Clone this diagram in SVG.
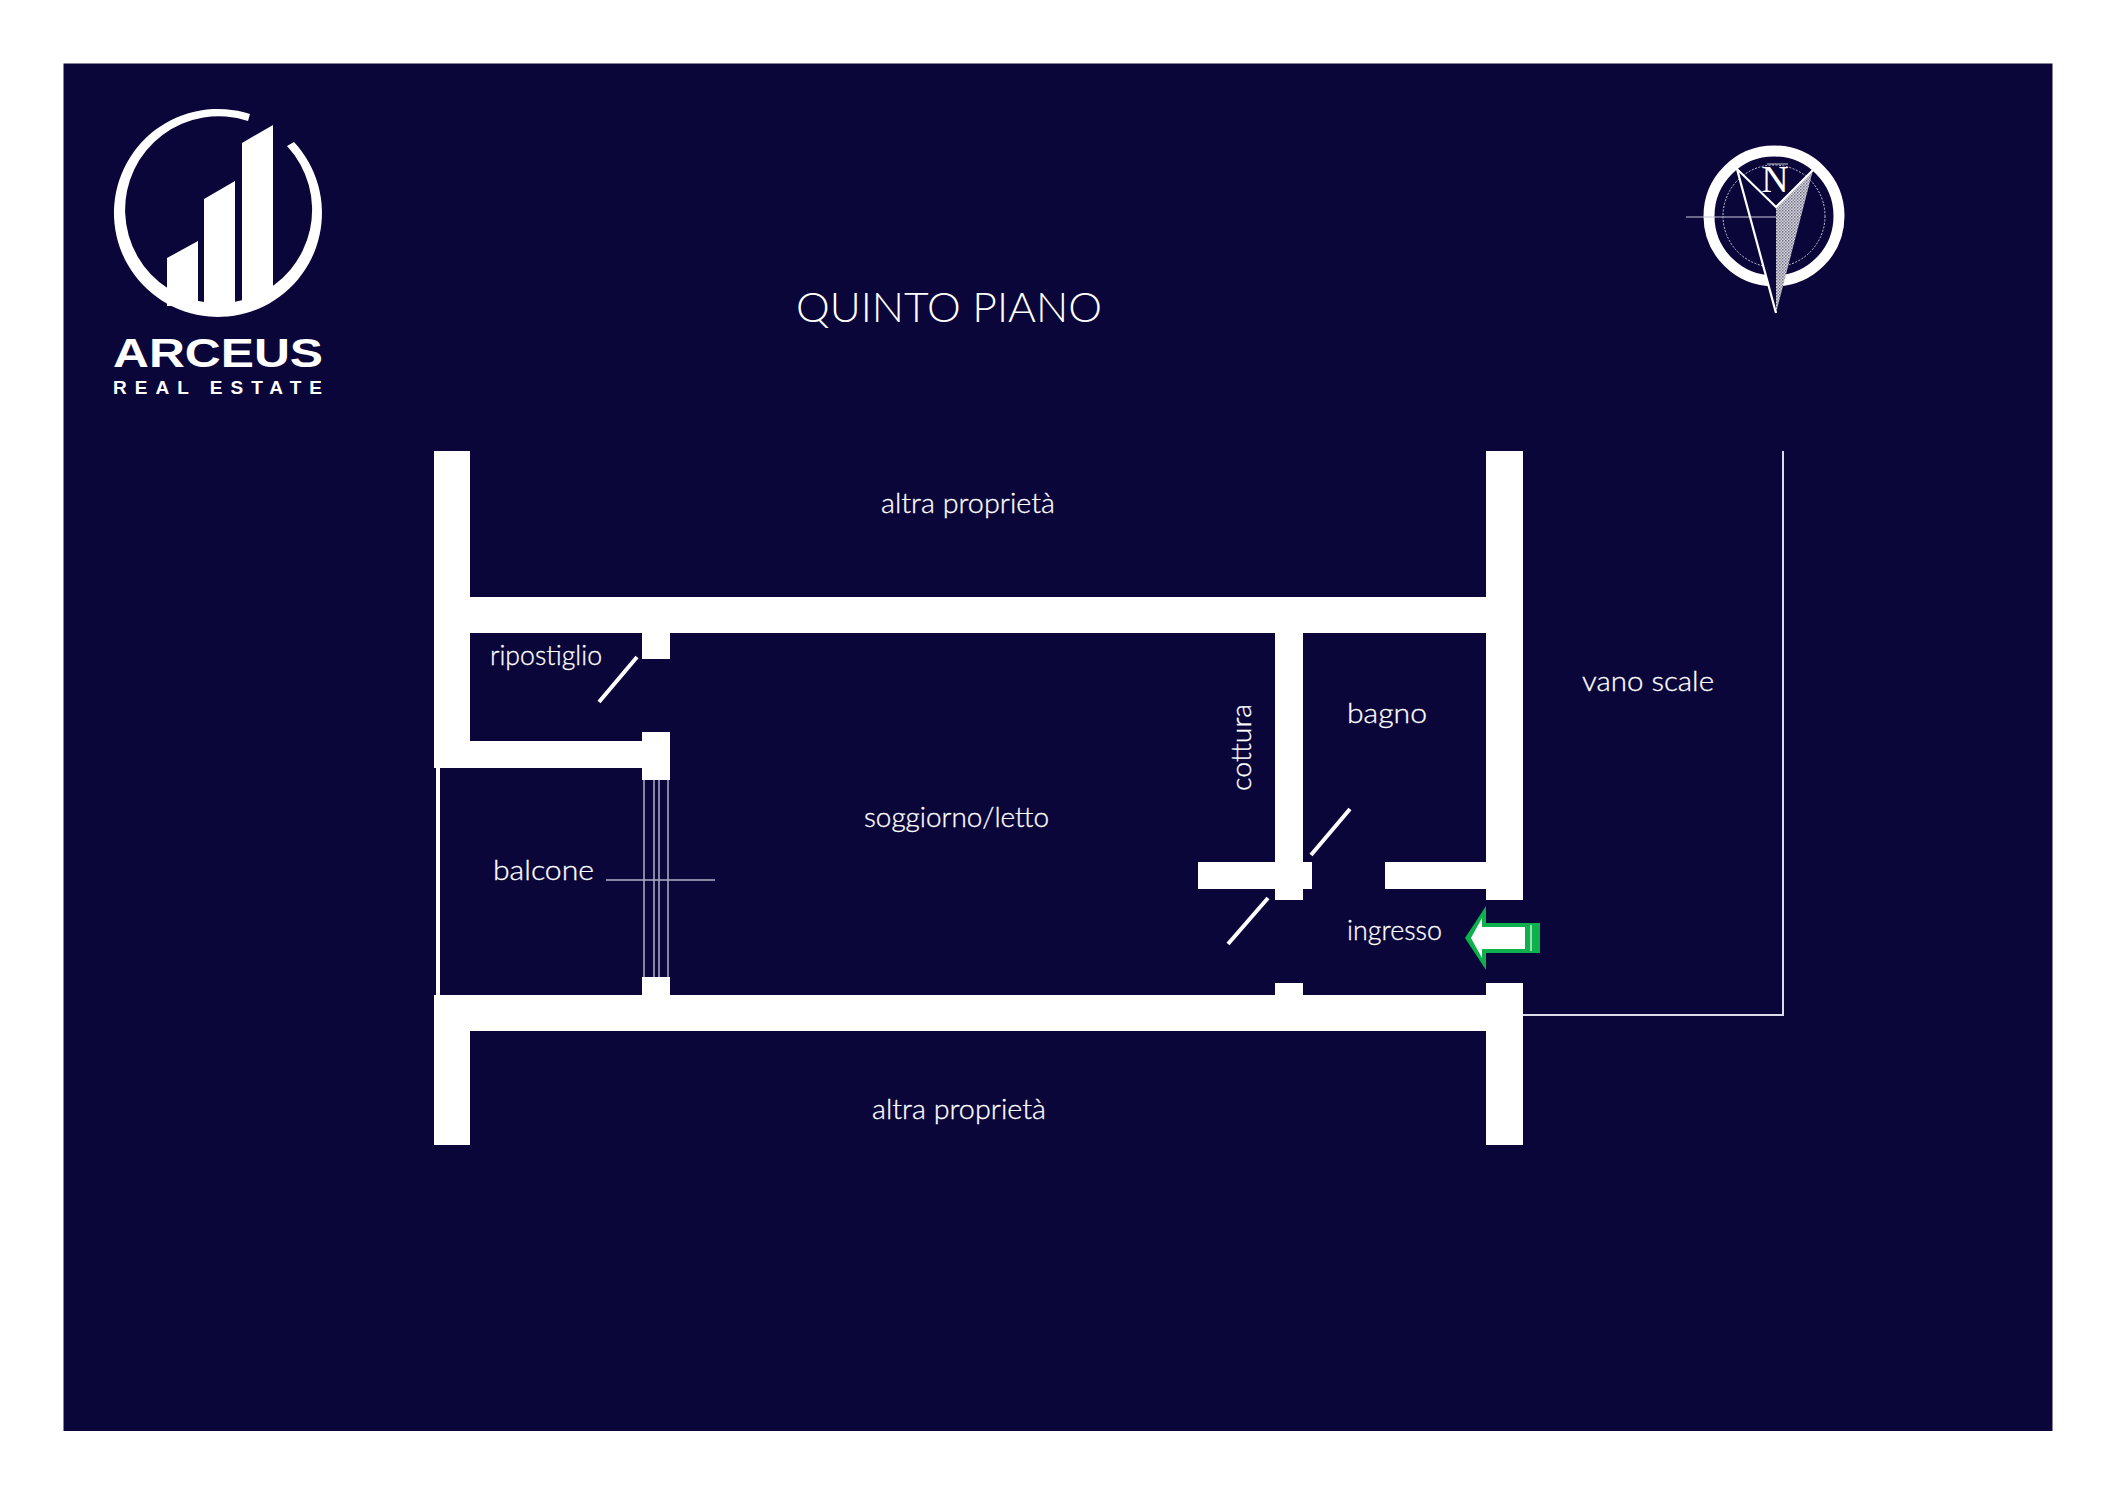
<svg xmlns="http://www.w3.org/2000/svg" width="2116" height="1497" viewBox="0 0 2116 1497">
<defs>
<pattern id="dots" width="3" height="3" patternUnits="userSpaceOnUse"><rect width="3" height="3" fill="#dcdce4"/><rect width="1.5" height="1.5" fill="#6a6a80"/><rect x="1.5" y="1.5" width="1.5" height="1.5" fill="#8a8a9c"/></pattern>
</defs>
<style>
.w{fill:#fff}
.d{stroke:#fff;stroke-width:4;fill:none}
.g{stroke:#b0aec6;stroke-width:1.5;fill:none}
.t{font-family:"Lato","Liberation Sans",sans-serif;font-weight:300;font-size:27px;fill:#fff;stroke:#fff;stroke-width:.3}
</style>
<rect id="background" width="2116" height="1497" fill="#fff"/>
<rect id="sheet" x="63.5" y="63.5" width="1989" height="1367.5" fill="#0b063a"/>
<g id="logo">
<path class="w" d="M250,114A104,104 0 1 0 294,142L287,146A93.5,93.5 0 1 1 248,121Z"/>
<path class="w" d="M167,258L198,241V306H167Z"/>
<path class="w" d="M204,199L235,181V306H204Z"/>
<path class="w" d="M242,143L273,125V295H242Z"/>
<path class="w" d="M242,295H273L250,306H242Z"/>
<text x="113" y="367" font-family="Liberation Sans" font-weight="700" font-size="40" fill="#fff" textLength="210" lengthAdjust="spacingAndGlyphs">ARCEUS</text>
<text x="113" y="394" font-family="Liberation Sans" font-weight="700" font-size="19" fill="#fff" textLength="209" lengthAdjust="spacing">REAL ESTATE</text>
</g>
<g id="compass">
<circle cx="1774" cy="216" r="65" fill="none" stroke="#fff" stroke-width="11"/>
<circle cx="1774" cy="216" r="51" fill="none" stroke="#c8c8d6" stroke-width="1" stroke-dasharray="2 1.5"/>
<path d="M1737,169L1776,207V313Z" fill="#0b063a"/>
<path d="M1686,217H1776" stroke="#c8c6da" stroke-width="1"/>
<path d="M1776,207L1813,170L1776,313Z" fill="url(#dots)"/>
<path d="M1776,313L1737,169L1776,207L1813,170" fill="none" stroke="#fff" stroke-width="2.2"/>
<path d="M1767,164H1788" stroke="#c8c8d6" stroke-width="1"/>
<text x="1775" y="192" text-anchor="middle" font-family="Liberation Serif" font-size="38" fill="#fff">N</text>
</g>
<text id="title" x="796" y="322" font-family="Lato,Liberation Sans,sans-serif" font-weight="300" font-size="42" fill="#fff" textLength="306" lengthAdjust="spacingAndGlyphs">QUINTO PIANO</text>
<g id="walls">
<rect class="w" x="434" y="451" width="36" height="317"/>
<rect class="w" x="434" y="995" width="36" height="150"/>
<rect class="w" x="1486" y="451" width="37" height="449"/>
<rect class="w" x="1486" y="983" width="37" height="162"/>
<rect class="w" x="470" y="597" width="1016" height="36"/>
<rect class="w" x="470" y="995" width="1016" height="36"/>
<rect class="w" x="470" y="741" width="172" height="27"/>
<rect class="w" x="642" y="633" width="28" height="26"/>
<rect class="w" x="642" y="732" width="28" height="48"/>
<rect class="w" x="642" y="977" width="28" height="18"/>
<rect class="w" x="1275" y="633" width="28" height="267"/>
<rect class="w" x="1198" y="862" width="114" height="27"/>
<rect class="w" x="1385" y="862" width="101" height="27"/>
<rect class="w" x="1275" y="983" width="28" height="12"/>
<rect class="w" x="436" y="768" width="4" height="227"/>
</g>
<g id="connectors">
<path class="d" d="M637,657L599,702"/>
<path class="d" d="M1350,809L1311,855"/>
<path class="d" d="M1268,898L1228,944"/>
<path class="g" d="M644,780V977M654,780V977M659,780V977M668,780V977M606,880H715"/>
<path d="M1523,1015H1783V451" fill="none" stroke="#dcdce6" stroke-width="2"/>
</g>
<g id="entry-arrow">
<path d="M1465,938L1486,906V923H1540V953H1486V970Z" fill="#0db14b"/>
<path d="M1471,938L1482,918V927H1525V949H1482V958Z" fill="#fff"/>
<path d="M1531,925V951" stroke="#cdeed8" stroke-width="1.5"/>
</g>
<g id="labels">
<text class="t" x="881" y="513" textLength="174" lengthAdjust="spacingAndGlyphs">altra proprietà</text>
<text class="t" x="872" y="1119" textLength="174" lengthAdjust="spacingAndGlyphs">altra proprietà</text>
<text class="t" x="490" y="665" textLength="112" lengthAdjust="spacingAndGlyphs">ripostiglio</text>
<text class="t" x="493" y="880" textLength="101" lengthAdjust="spacingAndGlyphs">balcone</text>
<text class="t" x="864" y="827" textLength="185" lengthAdjust="spacingAndGlyphs">soggiorno/letto</text>
<text class="t" x="1347" y="723" textLength="80" lengthAdjust="spacingAndGlyphs">bagno</text>
<text class="t" x="1347" y="940" textLength="95" lengthAdjust="spacingAndGlyphs">ingresso</text>
<text class="t" x="1582" y="691" textLength="132" lengthAdjust="spacingAndGlyphs">vano scale</text>
<text class="t" transform="translate(1251,791) rotate(-90)" textLength="87" lengthAdjust="spacingAndGlyphs">cottura</text>
</g>
</svg>
